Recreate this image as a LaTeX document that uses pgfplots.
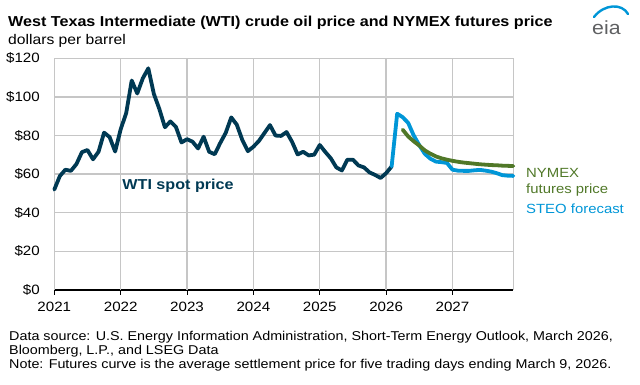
\documentclass[border=0pt]{standalone}
\usepackage{fontspec}
\setmainfont{Liberation Sans}[FakeStretch=1.12]
\usepackage{pgfplots}
\usepackage{pgfplotstable}
\pgfplotsset{compat=1.18}
\definecolor{wti}{RGB}{0,57,83}
\definecolor{steo}{RGB}{0,150,215}
\definecolor{nymex}{RGB}{80,120,40}
\definecolor{gridc}{RGB}{198,198,198}
\definecolor{eiagray}{RGB}{95,96,98}

\pgfplotstableread{
m p
0 52.0
1 59.0
2 62.3
3 61.7
4 65.2
5 71.4
6 72.5
7 67.7
8 71.6
9 81.5
10 79.2
11 71.7
12 83.2
13 91.6
14 108.5
15 101.8
16 109.6
17 114.8
18 101.6
19 93.7
20 84.3
21 87.3
22 84.4
23 76.4
24 78.1
25 76.8
26 73.3
27 79.4
28 71.6
29 70.3
30 76.1
31 81.4
32 89.4
33 85.6
34 77.7
35 71.9
36 74.2
37 77.2
38 81.3
39 85.4
40 80.0
41 79.8
42 81.8
43 76.7
44 70.2
45 71.6
46 69.7
47 70.1
48 75.1
49 71.5
50 68.2
51 63.5
52 61.9
53 67.5
54 67.5
55 64.5
56 63.5
57 60.9
58 59.6
59 58.0
60 60.5
61 64.0
}\wti

\pgfplotstableread{
m p
61 64.0
62 91.3
63 89.5
64 86.5
65 80.0
66 75.0
67 70.5
68 68.0
69 66.5
70 66.2
71 65.8
72 62.3
73 61.8
74 61.7
75 61.7
76 62.0
77 62.2
78 61.8
79 61.3
80 60.5
81 59.5
82 59.2
83 59.1
}\steo

\pgfplotstableread{
m p
63 83.0
64 79.5
65 77.0
66 74.8
67 72.3
68 70.6
69 69.2
70 68.2
71 67.5
72 66.9
73 66.4
74 66.0
75 65.7
76 65.4
77 65.1
78 64.9
79 64.7
80 64.6
81 64.4
82 64.3
83 64.2
}\nymex

\begin{document}
\begin{tikzpicture}[x=1pt,y=1pt]
\path[use as bounding box] (0,0) rectangle (640,385);
\begin{axis}[
  at={(54.3pt,95pt)}, anchor=south west,
  scale only axis, width=459pt, height=231.7pt,
  xmin=0, xmax=83, ymin=0, ymax=120,
  xtick={0,12,24,36,48,60,72},
  xticklabels={2021,2022,2023,2024,2025,2026,2027},
  ytick={0,20,40,60,80,100,120},
  yticklabels={\$0,\$20,\$40,\$60,\$80,\$100,\$120},
  axis x line*=bottom, axis y line*=left,
  x axis line style={black, line width=1.2pt, -},
  y axis line style={draw=none},
  tick align=outside,
  xtick style={black, line width=1pt},
  major tick length=5pt,
  ytick style={draw=none},
  tick label style={font=\fontsize{13.5}{13.5}\selectfont},
  yticklabel style={xshift=-6pt},
  xticklabel style={yshift=-4pt},
  clip=false,
]
\pgfplotsinvokeforeach{20,40,60,80,100,120}{\draw[gridc, line width=1.3pt] (axis cs:0,#1) -- (axis cs:83,#1);}
\pgfplotsinvokeforeach{0,12,24,36,48,60,72,83}{\draw[gridc, line width=1.3pt] (axis cs:#1,0) -- (axis cs:#1,120);}
\addplot[wti, line width=3.8pt, line join=round, line cap=round] table[x=m,y=p] {\wti};
\addplot[steo, line width=3.8pt, line join=round, line cap=round] table[x=m,y=p] {\steo};
\addplot[nymex, line width=3.8pt, line join=round, line cap=round] table[x=m,y=p] {\nymex};
\end{axis}
% titles
\node[anchor=base west, inner sep=0pt, font=\fontsize{14.4}{14.4}\selectfont\bfseries] at (8,358.3) {West Texas Intermediate (WTI) crude oil price and NYMEX futures price};
\node[anchor=base west, inner sep=0pt, font=\fontsize{14}{14}\selectfont] at (8,340) {dollars per barrel};
% eia logo
\draw[steo, line width=2.4pt, line cap=round] (594,368) .. controls (604,381) and (622,382) .. (628,371);
\node[anchor=west, inner sep=0pt, text=eiagray, font=\fontsize{19}{19}\selectfont] at (592,357) {eia};
% annotations
\node[anchor=base, inner sep=0pt, text=wti, font=\fontsize{14.4}{14.4}\selectfont\bfseries] at (178,195) {WTI spot price};
\node[anchor=base west, inner sep=0pt, text=nymex, font=\fontsize{13.3}{13.3}\selectfont] at (526,207.7) {NYMEX};
\node[anchor=base west, inner sep=0pt, text=nymex, font=\fontsize{13.3}{13.3}\selectfont] at (526,191.7) {futures price};
\node[anchor=base west, inner sep=0pt, text=steo, font=\fontsize{13.3}{13.3}\selectfont] at (526,171.7) {STEO forecast};
% footer
\node[anchor=base west, inner sep=0pt, font=\fontsize{12.8}{12.8}\selectfont] at (9,44.3) {Data source: U.S. Energy Information Administration, Short-Term Energy Outlook, March 2026,};
\node[anchor=base west, inner sep=0pt, font=\fontsize{12.8}{12.8}\selectfont] at (9,30) {Bloomberg, L.P., and LSEG Data};
\node[anchor=base west, inner sep=0pt, font=\fontsize{12.8}{12.8}\selectfont] at (9,16.3) {Note: Futures curve is the average settlement price for five trading days ending March 9, 2026.};
\end{tikzpicture}
\end{document}
